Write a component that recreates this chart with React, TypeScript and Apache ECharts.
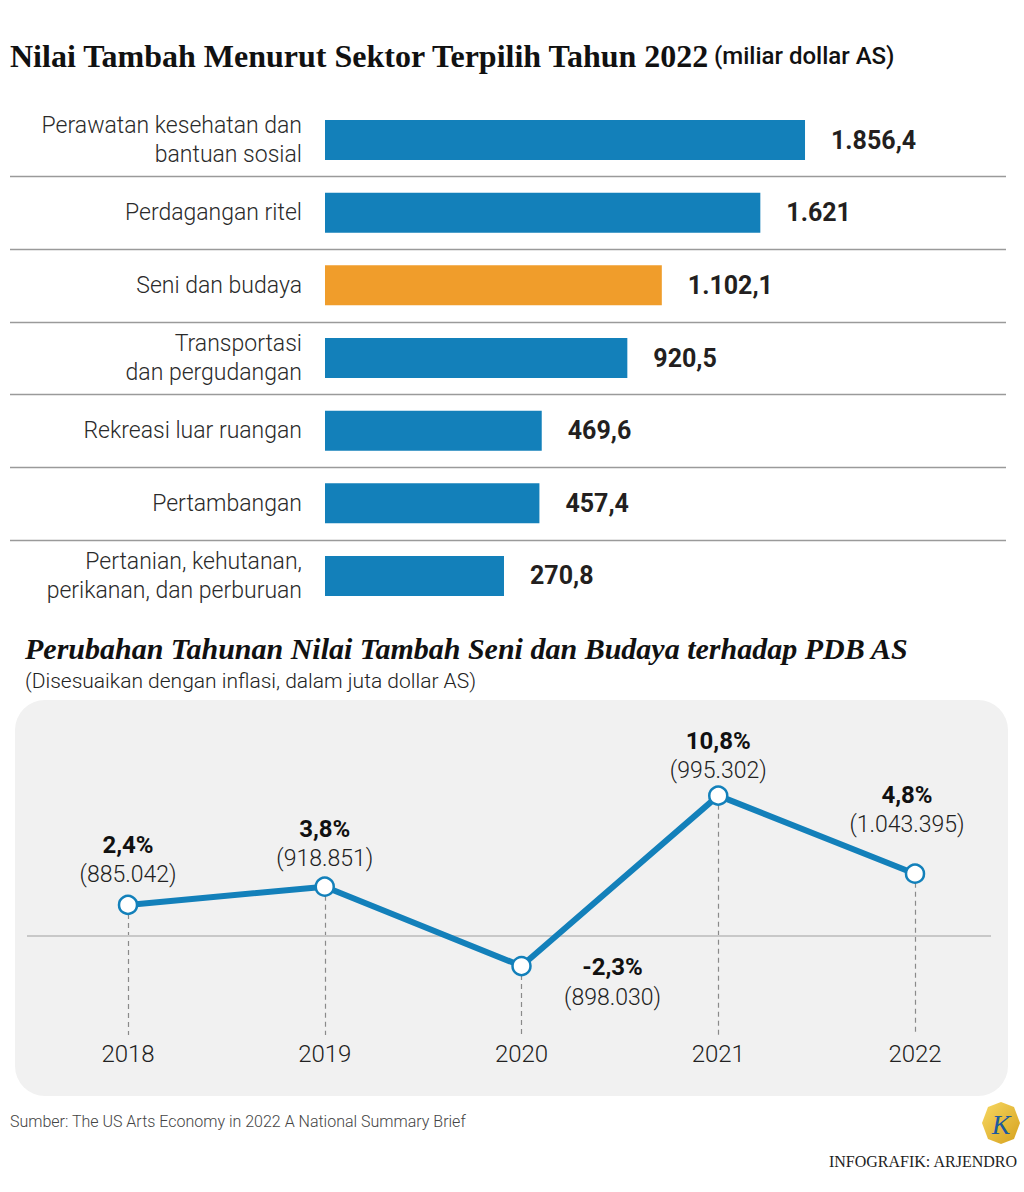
import React, { useEffect, useRef } from 'react';
import * as echarts from 'echarts';

// ---------- data ----------
const sectors = [
  'Perawatan kesehatan dan\nbantuan sosial',
  'Perdagangan ritel',
  'Seni dan budaya',
  'Transportasi\ndan pergudangan',
  'Rekreasi luar ruangan',
  'Pertambangan',
  'Pertanian, kehutanan,\nperikanan, dan perburuan',
];
const sectorValues = [1856.4, 1621, 1102.1, 920.5, 469.6, 457.4, 270.8];
const highlightSector = 'Seni dan budaya';

const years = ['2018', '2019', '2020', '2021', '2022'];
const growthPct = [2.4, 3.8, -2.3, 10.8, 4.8];
const valueAddedMillion = [885042, 918851, 898030, 995302, 1043395];

// ---------- style ----------
const BLUE = '#1380ba';
const ORANGE = '#f09d2b';
const SANS = 'Roboto, "Noto Sans", sans-serif';
const SERIF = '"Liberation Serif", "DejaVu Serif", serif';
const BAR_AXIS_MIN = -672;
const BAR_AXIS_MAX = 2915;
const LINE_Y_MIN = -7.6;
const LINE_Y_MAX = 15;
// label offsets (px) of each point's label block relative to the point
const labelOffsets: number[][] = [[0, -45], [0, -43], [91, 16], [0, -40], [-8, -64]];

function fmtId(v: number): string {
  const neg = v < 0;
  const s = String(Math.abs(v));
  const [intPart, frac] = s.split('.');
  const grouped = intPart.replace(/\B(?=(\d{3})+(?!\d))/g, '.');
  return (neg ? '-' : '') + grouped + (frac ? ',' + frac : '');
}

export default function App() {
  const ref = useRef<HTMLDivElement>(null);
  useEffect(() => {
    document.body.style.margin = '0';
    const chart = echarts.init(ref.current!, undefined, { renderer: 'svg' });
    const option: any = {
      animation: false,
      backgroundColor: '#ffffff',
      textStyle: { fontFamily: SANS },
      grid: [
        { left: 325, right: 18, top: 103.7, height: 508.6 },
        { left: 128, right: 109, top: 741, height: 294 },
      ],
      xAxis: [
        { type: 'value', gridIndex: 0, min: BAR_AXIS_MIN, max: BAR_AXIS_MAX, show: false },
        {
          type: 'category', gridIndex: 1, data: years, boundaryGap: false,
          axisLine: { show: false }, axisTick: { show: false },
          axisLabel: { fontSize: 24, fontWeight: 300, color: '#222', margin: 7, fontFamily: SANS },
        },
      ],
      yAxis: [
        {
          type: 'category', gridIndex: 0, data: sectors, inverse: true,
          axisLine: { show: false }, axisTick: { show: false }, splitLine: { show: false },
          axisLabel: { fontSize: 23, fontWeight: 300, color: '#2a2a2a', lineHeight: 29, margin: 23, fontFamily: SANS },
        },
        { type: 'value', gridIndex: 1, min: LINE_Y_MIN, max: LINE_Y_MAX, show: false },
      ],
      series: [
        {
          type: 'custom',
          xAxisIndex: 0,
          yAxisIndex: 0,
          data: sectorValues.map((v, i) => [v, i]),
          encode: { x: 0, y: 1 },
          renderItem: (params: any, api: any) => {
            const idx = params.dataIndex;
            const v = api.value(0) as number;
            const start = api.coord([BAR_AXIS_MIN, idx]);
            const end = api.coord([v, idx]);
            const h = 40;
            return {
              type: 'group',
              children: [
                {
                  type: 'rect',
                  shape: { x: start[0], y: start[1] - h / 2, width: end[0] - start[0], height: h },
                  style: { fill: sectors[idx] === highlightSector ? ORANGE : BLUE },
                },
                {
                  type: 'text',
                  x: end[0] + 26,
                  y: end[1],
                  style: {
                    text: fmtId(v), fill: '#231f20', fontSize: 25, fontWeight: 'bold',
                    fontFamily: SANS, align: 'left', verticalAlign: 'middle',
                  },
                },
              ],
            };
          },
        },
        {
          type: 'line',
          xAxisIndex: 1,
          yAxisIndex: 1,
          z: 3,
          data: growthPct.map((p, i) => ({
            value: p,
            label: { offset: labelOffsets[i] },
          })),
          lineStyle: { color: BLUE, width: 6 },
          symbol: 'circle',
          symbolSize: 18,
          itemStyle: { color: '#ffffff', borderColor: BLUE, borderWidth: 2.5 },
          label: {
            show: true,
            position: 'inside',
            align: 'center',
            verticalAlign: 'middle',
            formatter: (p: any) =>
              `{p|${fmtId(growthPct[p.dataIndex])}%}\n{v|(${fmtId(valueAddedMillion[p.dataIndex])})}`,
            rich: {
              p: { fontSize: 24, fontWeight: 'bold', color: '#111', lineHeight: 30, fontFamily: SANS, align: 'center' },
              v: { fontSize: 23, fontWeight: 300, color: '#222', lineHeight: 30, fontFamily: SANS, align: 'center' },
            },
          },
          markLine: {
            silent: true,
            z: 1,
            symbol: ['none', 'none'],
            label: { show: false },
            lineStyle: { color: '#8a8a8a', width: 1.2, type: [5, 4] },
            data: growthPct.map((p, i) => [
              { coord: [years[i], p] },
              { coord: [years[i], LINE_Y_MIN] },
            ]),
          },
        },
      ],
    };
    chart.setOption(option);

    // separators between sector rows and the zero line, positioned through the axes
    const centers = sectors.map((_, i) => chart.convertToPixel({ yAxisIndex: 0 } as any, i) as number);
    const seps: any[] = [];
    for (let i = 0; i < centers.length - 1; i++) {
      const y = Math.round((centers[i] + centers[i + 1]) / 2) + 0.5;
      seps.push({
        type: 'line', id: 'sep' + i, z: 1,
        shape: { x1: 10, y1: y, x2: 1006, y2: y },
        style: { stroke: '#9a9a9a', lineWidth: 1.5 },
      });
    }
    const zeroY = Math.round(chart.convertToPixel({ yAxisIndex: 1 } as any, 0) as number);

    chart.setOption({
      graphic: [
        {
          type: 'rect', id: 'panel', z: -10,
          shape: { x: 15, y: 700, width: 993, height: 396, r: 30 },
          style: { fill: '#f1f1f1' },
        },
        {
          type: 'text', id: 'title', x: 10, y: 56,
          style: {
            text: '{t|Nilai Tambah Menurut Sektor Terpilih Tahun 2022} {u|(miliar dollar AS)}',
            verticalAlign: 'middle',
            rich: {
              t: { fontFamily: SERIF, fontWeight: 'bold', fontSize: 32, fill: '#111' },
              u: { fontFamily: SANS, fontWeight: 500, fontSize: 24, fill: '#111' },
            },
          },
        },
        ...seps,
        {
          type: 'text', id: 'sub1', x: 25, y: 648,
          style: {
            text: 'Perubahan Tahunan Nilai Tambah Seni dan Budaya terhadap PDB AS',
            fontFamily: SERIF, fontWeight: 'bold', fontStyle: 'italic', fontSize: 30,
            fill: '#111', verticalAlign: 'middle',
          },
        },
        {
          type: 'text', id: 'sub2', x: 25, y: 681,
          style: {
            text: '(Disesuaikan dengan inflasi, dalam juta dollar AS)',
            fontFamily: SANS, fontWeight: 300, fontSize: 21, fill: '#222', verticalAlign: 'middle',
          },
        },
        {
          type: 'line', id: 'zero', z: 1,
          shape: { x1: 27, y1: zeroY, x2: 991, y2: zeroY },
          style: { stroke: '#c8c8c8', lineWidth: 2 },
        },
        {
          type: 'text', id: 'src', x: 10, y: 1121,
          style: {
            text: 'Sumber: The US Arts Economy in 2022 A National Summary Brief',
            fontFamily: SANS, fontWeight: 300, fontSize: 16, fill: '#444', verticalAlign: 'middle',
          },
        },
        {
          type: 'polygon', id: 'logo',
          shape: {
            points: [[1001, 1102], [1014, 1107], [1020, 1123], [1014, 1139], [1001, 1144], [988, 1139], [982, 1123], [988, 1107]],
          },
          style: {
            fill: new echarts.graphic.LinearGradient(0, 0, 1, 1, [
              { offset: 0, color: '#f7d862' },
              { offset: 1, color: '#d6a11d' },
            ]),
          },
        },
        {
          type: 'text', id: 'logoK', x: 1001, y: 1124,
          style: {
            text: 'K', fontFamily: '"Liberation Serif", serif', fontStyle: 'italic', fontSize: 28,
            fill: '#1d5a9e', align: 'center', verticalAlign: 'middle',
          },
        },
        {
          type: 'text', id: 'credit', x: 1017, y: 1161,
          style: {
            text: 'INFOGRAFIK: ARJENDRO', fontFamily: '"Liberation Serif", serif', fontSize: 16,
            fill: '#222', align: 'right', verticalAlign: 'middle',
          },
        },
      ],
    });

    return () => chart.dispose();
  }, []);
  return <div ref={ref} style={{ width: 1024, height: 1192 }} />;
}
